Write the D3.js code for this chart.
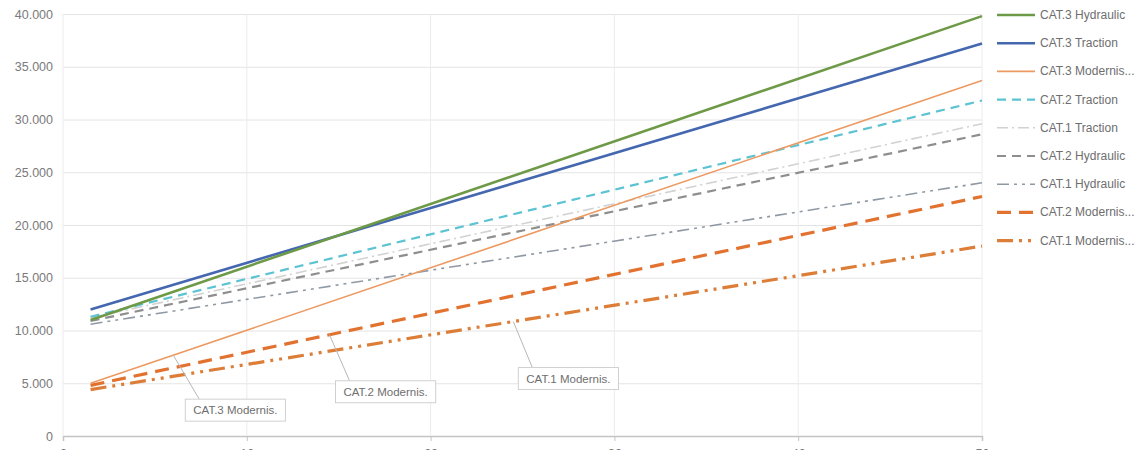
<!DOCTYPE html>
<html>
<head>
<meta charset="utf-8">
<script src="https://cdn.jsdelivr.net/npm/d3@7"></script>
<style>
  html, body { margin: 0; padding: 0; background: #fff; }
  svg { display: block; }
  text { font-family: "Liberation Sans", Arial, sans-serif; }
</style>
</head>
<body>
<svg id="chart" width="1140" height="450"></svg>
<script>
// Series names, in legend order
const seriesNames = [
  "CAT.3 Hydraulic", "CAT.3 Traction", "CAT.3 Modernis.",
  "CAT.2 Traction", "CAT.1 Traction", "CAT.2 Hydraulic",
  "CAT.1 Hydraulic", "CAT.2 Modernis.", "CAT.1 Modernis."
];
// Legend labels as displayed (long names are cut short)
const legendLabels = [
  "CAT.3 Hydraulic", "CAT.3 Traction", "CAT.3 Modernis...",
  "CAT.2 Traction", "CAT.1 Traction", "CAT.2 Hydraulic",
  "CAT.1 Hydraulic", "CAT.2 Modernis...", "CAT.1 Modernis..."
];
// x positions of the two measured points of every series
const xPoints = [1.5, 50];
// values at the first and last x position
const startValues = [11000, 12000, 5000, 11300, 11200, 10900, 10600, 4800, 4400];
const endValues   = [39800, 37200, 33700, 31800, 29600, 28600, 24000, 22700, 18000];
// axis ticks
const yTicks = [0, 5000, 10000, 15000, 20000, 25000, 30000, 35000, 40000];
const xTicks = [0, 10, 20, 30, 40, 50];
// data callouts: series name and the x value the leader points to
const calloutSeries = ["CAT.3 Modernis.", "CAT.2 Modernis.", "CAT.1 Modernis."];
const calloutAnchorX = [6, 14.5, 24.5];

// line styles per series
const styles = {
  "CAT.3 Hydraulic": { color: "#6e9a48", width: 2.6, dash: null },
  "CAT.3 Traction":  { color: "#4467b0", width: 2.6, dash: null },
  "CAT.3 Modernis.": { color: "#ec9a62", width: 1.6, dash: null },
  "CAT.2 Traction":  { color: "#5cc3d2", width: 2.2, dash: "9,6" },
  "CAT.1 Traction":  { color: "#d2d2d2", width: 1.6, dash: "11,4,2,4" },
  "CAT.2 Hydraulic": { color: "#8e8e8e", width: 2.2, dash: "9,6" },
  "CAT.1 Hydraulic": { color: "#8f99a3", width: 1.6, dash: "12,5,3,5,3,5" },
  "CAT.2 Modernis.": { color: "#e2722f", width: 3.2, dash: "14,8" },
  "CAT.1 Modernis.": { color: "#dc7e38", width: 3.2, dash: "16,6,3,6,3,6" }
};

const series = seriesNames.map((name, i) => ({
  name,
  points: [
    { x: xPoints[0], y: startValues[i] },
    { x: xPoints[1], y: endValues[i] }
  ]
}));

const svg = d3.select("#chart");
const margin = { left: 63, right: 158, top: 14, bottom: 14 };
const W = 1140, H = 450;

const x = d3.scaleLinear().domain([0, 50]).range([margin.left, W - margin.right]);
const y = d3.scaleLinear().domain([0, 40000]).range([H - margin.bottom, margin.top]);

const locale = d3.formatLocale({ decimal: ",", thousands: ".", grouping: [3], currency: ["", "€"] });
const fmt = locale.format(",");

// horizontal gridlines + y labels
const yAxis = svg.append("g")
  .attr("transform", `translate(${margin.left},0)`)
  .call(d3.axisLeft(y).tickValues(yTicks).tickFormat(fmt)
    .tickSize(-(x.range()[1] - x.range()[0])).tickPadding(10));
yAxis.select(".domain").remove();
yAxis.selectAll(".tick line").attr("stroke", "#e4e4e4").attr("stroke-width", 1);
yAxis.selectAll(".tick text").attr("fill", "#7a7a7a").style("font-size", "12.5px");

// vertical gridlines + x labels
const xAxis = svg.append("g")
  .attr("transform", `translate(0,${y(0)})`)
  .call(d3.axisBottom(x).tickValues(xTicks).tickSize(5).tickPadding(8));
xAxis.select(".domain").attr("stroke", "#c4c4c4").attr("stroke-width", 1.5);
xAxis.selectAll(".tick line").attr("stroke", "#c4c4c4");
xAxis.selectAll(".tick text").attr("fill", "#7a7a7a").style("font-size", "12.5px");
svg.append("g").selectAll("line").data(xTicks).join("line")
  .attr("x1", d => x(d)).attr("x2", d => x(d))
  .attr("y1", y(40000)).attr("y2", y(0))
  .attr("stroke", "#ececec").attr("stroke-width", 1);

// series lines
const line = d3.line().x(d => x(d.x)).y(d => y(d.y));
svg.append("g").selectAll("path").data(series.slice().reverse()).join("path")
  .attr("d", d => line(d.points))
  .attr("fill", "none")
  .attr("stroke", d => styles[d.name].color)
  .attr("stroke-width", d => styles[d.name].width)
  .attr("stroke-dasharray", d => styles[d.name].dash);

// callouts
const valueAt = (s, xv) => {
  const [a, b] = s.points;
  return a.y + (b.y - a.y) * (xv - a.x) / (b.x - a.x);
};
const boxOffsets = [{ dx: 12, dy: 44 }, { dx: 6, dy: 46 }, { dx: 5, dy: 46 }];
const callouts = svg.append("g");
calloutSeries.forEach((name, i) => {
  const s = series.find(d => d.name === name);
  const ax = x(calloutAnchorX[i]);
  const ay = y(valueAt(s, calloutAnchorX[i]));
  const bx = ax + boxOffsets[i].dx, by = ay + boxOffsets[i].dy;
  const t = callouts.append("text")
    .attr("x", bx + 8).attr("y", by + 15)
    .attr("fill", "#6e6e6e").style("font-size", "11.5px").text(name);
  const w = t.node().getComputedTextLength() + 16;
  callouts.insert("rect", "text")
    .attr("x", bx).attr("y", by).attr("width", w).attr("height", 22)
    .attr("fill", "#fff").attr("stroke", "#d0d0d0");
  callouts.insert("line", "rect")
    .attr("x1", ax).attr("y1", ay).attr("x2", bx + 14).attr("y2", by)
    .attr("stroke", "#b8b8b8").attr("stroke-width", 1);
});

// legend
const legend = svg.append("g").attr("transform", "translate(997,15)");
const item = legend.selectAll("g").data(seriesNames).join("g")
  .attr("transform", (d, i) => `translate(0,${i * 28.2})`);
item.append("line")
  .attr("x1", 0).attr("x2", 38).attr("y1", 0).attr("y2", 0)
  .attr("stroke", d => styles[d].color)
  .attr("stroke-width", d => styles[d].width)
  .attr("stroke-dasharray", d => styles[d].dash);
item.append("text")
  .attr("x", 43).attr("y", 4)
  .attr("fill", "#6e6e6e").style("font-size", "12px")
  .text((d, i) => legendLabels[i]);
</script>
</body>
</html>
